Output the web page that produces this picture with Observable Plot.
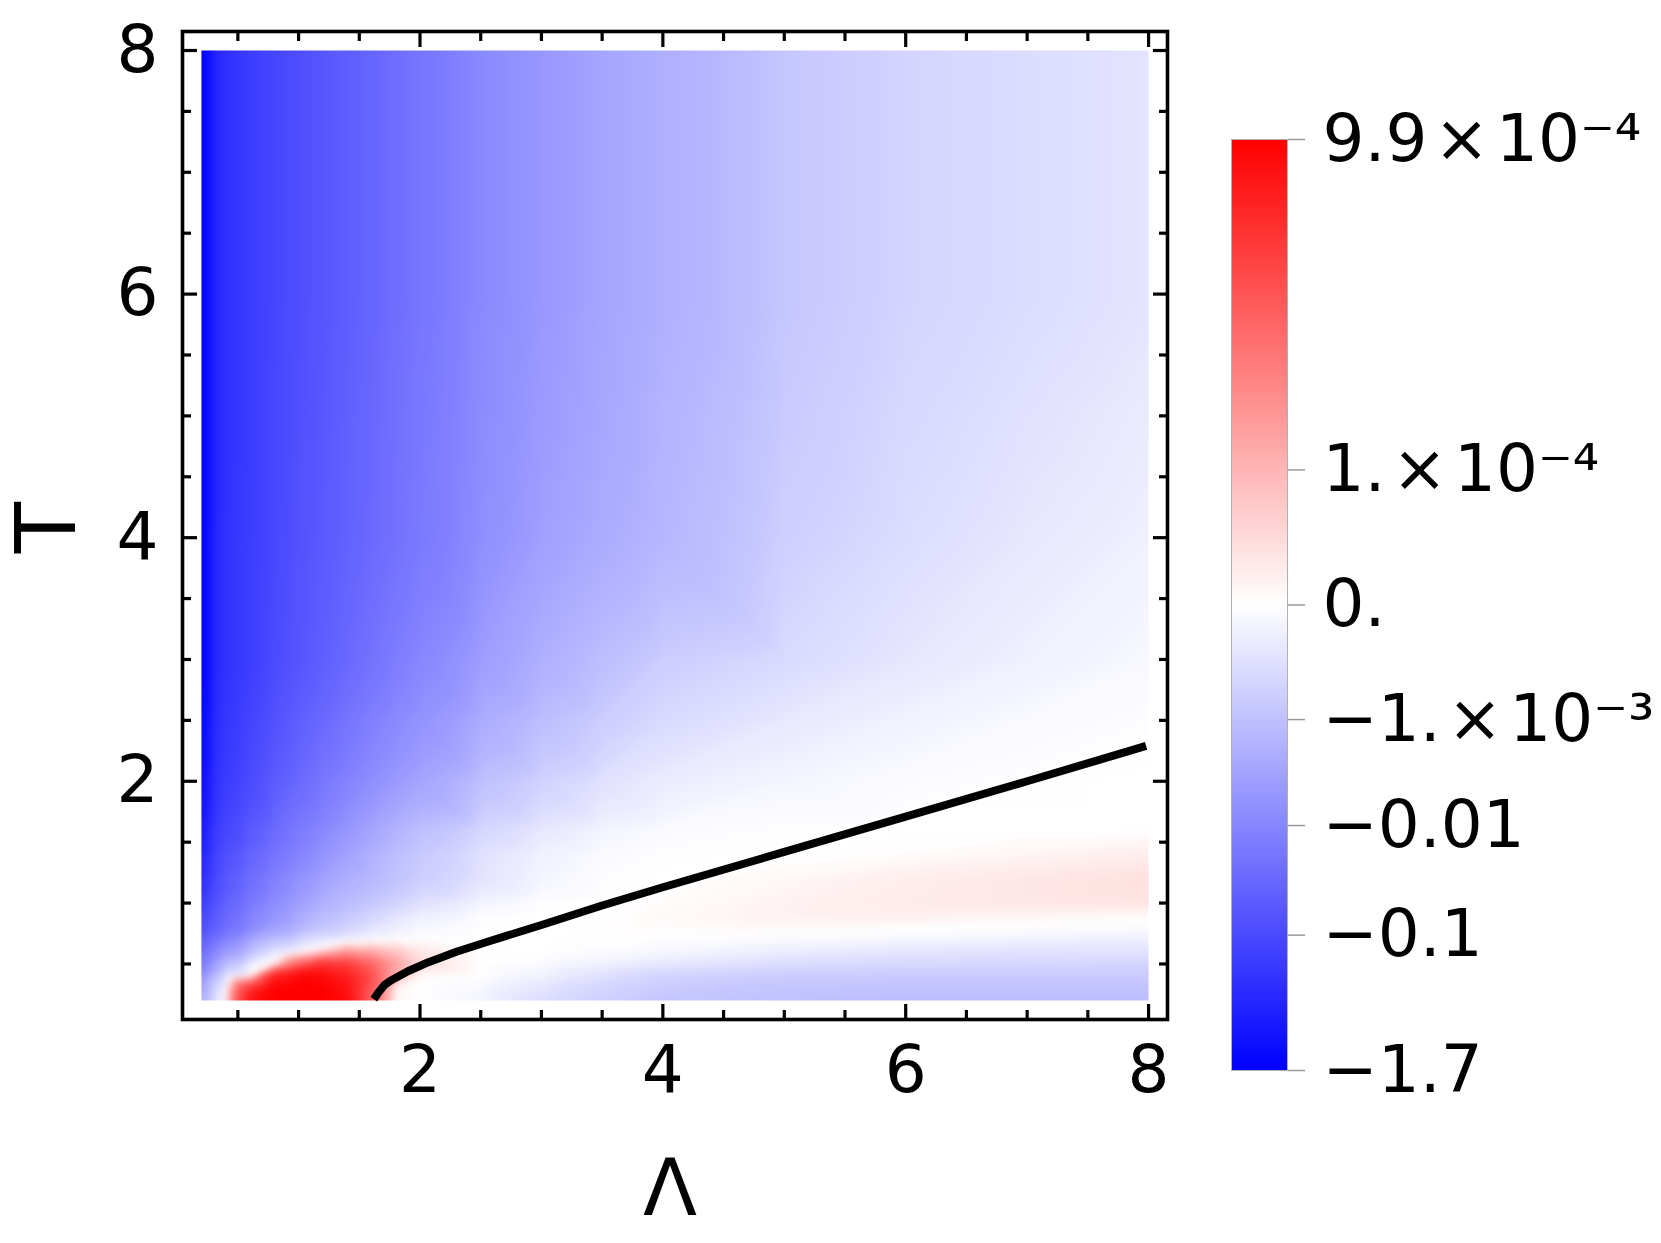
<!DOCTYPE html>
<html>
<head>
<meta charset="utf-8">
<script src="https://cdn.jsdelivr.net/npm/d3@7"></script>
<script src="https://cdn.jsdelivr.net/npm/@observablehq/plot@0.6"></script>
<style>
  html, body { margin: 0; padding: 0; background: #ffffff; }
  #chart { position: relative; width: 1661px; height: 1243px; overflow: hidden; background: #ffffff; }
  #chart > svg { position: absolute; top: 0; max-width: none; }
</style>
</head>
<body>
<div id="chart"></div>
<script>
// ---- Data ----
const lambdaGrid = [0.2, 0.3, 0.4, 0.6, 0.8, 1.0, 1.2, 1.4, 1.6, 1.8, 2.0, 2.5, 3, 3.5, 4, 5, 6, 7, 8];
const tGrid = [0.2, 0.3, 0.4, 0.5, 0.6, 0.7, 0.8, 0.9, 1.0, 1.2, 1.4, 1.6, 2, 2.5, 3, 4, 5, 6, 8];
// one row per T value, one column per Λ value
const fieldRows = [
  [-0.00135, -0.00021, 0, 8.0e-4, 9.9e-4, 9.9e-4, 9.9e-4, 8.9e-4, 3.3e-4, 2.9e-6, 0, -0.000047, -0.00026, -0.0005, -0.00078, -0.00098, -0.0011, -0.0011, -0.0011],
  [-0.0030, -0.00036, -0.000021, 5.8e-4, 9.9e-4, 9.9e-4, 9.9e-4, 8.0e-4, 3.7e-4, 1.0e-5, 0, -0.00003, -0.00016, -0.00038, -0.00063, -0.00085, -0.00093, -0.00093, -0.00093],
  [-0.0059, -0.0011, -0.00011, 2.1e-5, 7.2e-4, 9.4e-4, 8.9e-4, 7.2e-4, 4.2e-4, 1.0e-4, 4.8e-6, 0, -0.000065, -0.00021, -0.00042, -0.00058, -0.00063, -0.00063, -0.00063],
  [-0.014, -0.0037, -0.00089, -0.000077, 1.5e-5, 3.3e-4, 5.8e-4, 5.2e-4, 3.3e-4, 1.45e-4, 3.9e-5, 0, -0.000012, -0.000065, -0.00013, -0.00026, -0.00033, -0.00036, -0.0004],
  [-0.025, -0.0097, -0.0037, -0.00089, -0.00014, -0.000021, 6.7e-5, 1.7e-4, 1.3e-4, 7.5e-5, 2.8e-5, 1.9e-6, 0, -0.000012, -0.00004, -0.0001, -0.00016, -0.00019, -0.00018],
  [-0.045, -0.021, -0.0097, -0.0025, -0.00089, -0.00036, -0.00014, -0.000047, -0.0000085, 2.9e-6, 2.9e-6, 0, 0, 0, -0.0000085, -0.000021, -0.00004, -0.000065, -0.00009],
  [-0.080, -0.045, -0.024, -0.0087, -0.0037, -0.00165, -0.00078, -0.00042, -0.0002, -0.00009, -0.000036, 0, 0, 1.9e-6, 4.8e-6, 7e-6, 2.9e-6, 0, -0.0000085],
  [-0.117, -0.055, -0.031, -0.0118, -0.0055, -0.0025, -0.0012, -0.00072, -0.00038, -0.00018, -0.00009, -0.000012, 0, 0, 4.8e-6, 1.3e-5, 1.5e-5, 1.0e-5, 4.8e-6],
  [-0.17, -0.074, -0.040, -0.016, -0.0074, -0.0037, -0.0019, -0.0012, -0.00072, -0.00042, -0.00021, -0.000047, -0.000004, 0, 2.9e-6, 1.3e-5, 2.1e-5, 2.6e-5, 2.9e-5],
  [-0.305, -0.11, -0.059, -0.025, -0.0118, -0.0059, -0.0033, -0.0020, -0.0014, -0.00089, -0.00055, -0.00018, -0.000047, -0.0000085, 0, 7e-6, 1.8e-5, 2.6e-5, 3.3e-5],
  [-0.45, -0.145, -0.080, -0.037, -0.019, -0.0105, -0.0059, -0.0033, -0.0018, -0.0011, -0.00069, -0.00021, -0.00007, -0.000021, -0.000004, 0, 2.9e-6, 1.0e-5, 1.8e-5],
  [-0.62, -0.19, -0.12, -0.055, -0.028, -0.015, -0.0088, -0.0051, -0.0029, -0.0017, -0.00105, -0.00036, -0.00014, -0.000053, -0.000021, -0.000004, 0, 0, 0],
  [-1.08, -0.27, -0.17, -0.097, -0.051, -0.030, -0.017, -0.011, -0.0071, -0.0045, -0.0030, -0.0010, -0.00046, -0.00021, -0.00011, -0.000047, -0.000016, -0.000004, 0],
  [-1.4, -0.35, -0.21, -0.125, -0.074, -0.045, -0.030, -0.019, -0.0125, -0.0086, -0.0060, -0.0023, -0.0011, -0.00058, -0.00031, -0.00014, -0.000065, -0.000025, -0.0000085],
  [-1.7, -0.40, -0.25, -0.16, -0.097, -0.066, -0.045, -0.031, -0.021, -0.014, -0.0097, -0.0040, -0.0020, -0.0011, -0.00058, -0.00031, -0.00016, -0.000077, -0.00003],
  [-1.7, -0.43, -0.25, -0.165, -0.11, -0.074, -0.055, -0.040, -0.030, -0.022, -0.016, -0.0072, -0.0037, -0.0023, -0.0015, -0.00053, -0.00027, -0.00015, -0.000077],
  [-1.7, -0.45, -0.27, -0.17, -0.11, -0.080, -0.060, -0.043, -0.032, -0.023, -0.017, -0.0080, -0.0045, -0.0028, -0.0017, -0.00066, -0.00034, -0.00021, -0.00012],
  [-1.7, -0.45, -0.27, -0.17, -0.117, -0.086, -0.064, -0.047, -0.035, -0.025, -0.019, -0.0087, -0.0051, -0.0030, -0.0020, -0.00078, -0.00042, -0.00028, -0.00018],
  [-1.7, -0.45, -0.27, -0.17, -0.117, -0.086, -0.064, -0.047, -0.035, -0.025, -0.019, -0.0087, -0.0051, -0.0030, -0.0020, -0.00078, -0.00042, -0.00028, -0.00018]
];
// black boundary curve
const lineLambda = [1.62, 1.66, 1.71, 1.76, 1.9, 2.07, 2.3, 2.55, 3.0, 3.5, 4.0, 5.0, 6.0, 7.0, 7.98];
const lineT = [0.21, 0.27, 0.33, 0.365, 0.44, 0.515, 0.6, 0.68, 0.82, 0.98, 1.13, 1.42, 1.71, 2.0, 2.29];
// axis ticks
const majorTicks = [2, 4, 6, 8];
const majorTickLabels = ["2", "4", "6", "8"];
const minorTicks = [0.5, 1, 1.5, 2.5, 3, 3.5, 4.5, 5, 5.5, 6.5, 7, 7.5];
// colour bar ticks
const barTicks = [9.9e-4, 1e-4, 0, -1e-3, -0.01, -0.1, -1.7];
const barLabels = ["9.9\u200a\u00d7\u200a10\u207b\u2074", "1.\u200a\u00d7\u200a10\u207b\u2074", "0.", "\u22121.\u200a\u00d7\u200a10\u207b\u00b3", "\u22120.01", "\u22120.1", "\u22121.7"];

// ---- Build tables ----
const field = [];
tGrid.forEach((t, i) => lambdaGrid.forEach((lambda, j) => field.push({lambda, t, v: fieldRows[i][j]})));
const curve = lineLambda.map((lambda, i) => ({lambda, t: lineT[i]}));
const barLabelOf = new Map(barTicks.map((d, i) => [d, barLabels[i]]));
const majorLabelOf = new Map(majorTicks.map((d, i) => [d, majorTickLabels[i]]));

const colorOpts = {
  type: "diverging-symlog", constant: 1e-4, domain: [-1.7, 9.9e-4], pivot: 0, symmetric: false,
  range: ["#0000ff", "#ffffff", "#ff0000"], interpolate: "rgb"
};
const font = "'DejaVu Sans', 'Liberation Sans', sans-serif";

const tickAxes = (values, size) => [
  Plot.axisX(values, {anchor: "bottom", tickSize: -size, strokeWidth: 3.2, stroke: "black", fill: "none", label: null}),
  Plot.axisX(values, {anchor: "top", tickSize: -size, strokeWidth: 3.2, stroke: "black", fill: "none", label: null}),
  Plot.axisY(values, {anchor: "left", tickSize: -size, strokeWidth: 3.2, stroke: "black", fill: "none", label: null}),
  Plot.axisY(values, {anchor: "right", tickSize: -size, strokeWidth: 3.2, stroke: "black", fill: "none", label: null})
];

const main = Plot.plot({
  width: 1200, height: 1243,
  marginLeft: 182, marginRight: 33, marginTop: 31, marginBottom: 224,
  style: {fontFamily: font, background: "transparent", color: "black"},
  x: {domain: [0.044, 8.156]},
  y: {domain: [0.044, 8.156]},
  color: colorOpts,
  marks: [
    Plot.raster(field, {x: "lambda", y: "t", fill: "v", interpolate: "barycentric", blur: 3, x1: 0.2, x2: 8, y1: 0.2, y2: 8}),
    Plot.line(curve, {x: "lambda", y: "t", stroke: "black", strokeWidth: 8, strokeLinecap: "butt"}),
    Plot.frame({stroke: "black", strokeWidth: 3.6}),
    ...tickAxes(majorTicks, 15),
    ...tickAxes(minorTicks, 9),
    Plot.axisX(majorTicks, {anchor: "bottom", tickSize: 0, tickPadding: 26, fontSize: 66, fill: "black", tickFormat: d => majorLabelOf.get(d), label: null}),
    Plot.axisY(majorTicks, {anchor: "left", tickSize: 0, tickPadding: 24, fontSize: 66, fill: "black", tickFormat: d => majorLabelOf.get(d), label: null}),
    Plot.text(["\u039b"], {text: d => d, frameAnchor: "bottom", lineAnchor: "bottom", dx: -5, dy: 195, fontSize: 79, fill: "black"}),
    Plot.text(["T"], {text: d => d, frameAnchor: "left", rotate: -90, lineAnchor: "middle", textAnchor: "middle", dx: -134, dy: 2, fontSize: 84, fill: "black"})
  ]
});
main.style.left = "0px";

const bar = Plot.plot({
  width: 461, height: 1243,
  marginLeft: 31, marginRight: 374, marginTop: 139, marginBottom: 173,
  style: {fontFamily: font, background: "transparent", color: "black"},
  x: {domain: [0, 1], axis: null},
  y: {type: "symlog", constant: 1e-4, domain: [-1.7, 0, 9.9e-4], range: [1070, 604.5, 139]},
  color: colorOpts,
  marks: [
    Plot.raster({fill: (x, y) => y, x1: 0, x2: 1, y1: -1.7, y2: 9.9e-4}),
    Plot.frame({stroke: "#b0b0b0", strokeWidth: 1}),
    Plot.axisY(barTicks, {anchor: "right", tickSize: 17, tickPadding: 18, stroke: "#999999", strokeWidth: 1.5, fill: "black", fontSize: 66, tickFormat: d => barLabelOf.get(d), label: null})
  ]
});
bar.style.left = "1200px";

const chart = document.getElementById("chart");
chart.appendChild(main);
chart.appendChild(bar);
</script>
</body>
</html>
